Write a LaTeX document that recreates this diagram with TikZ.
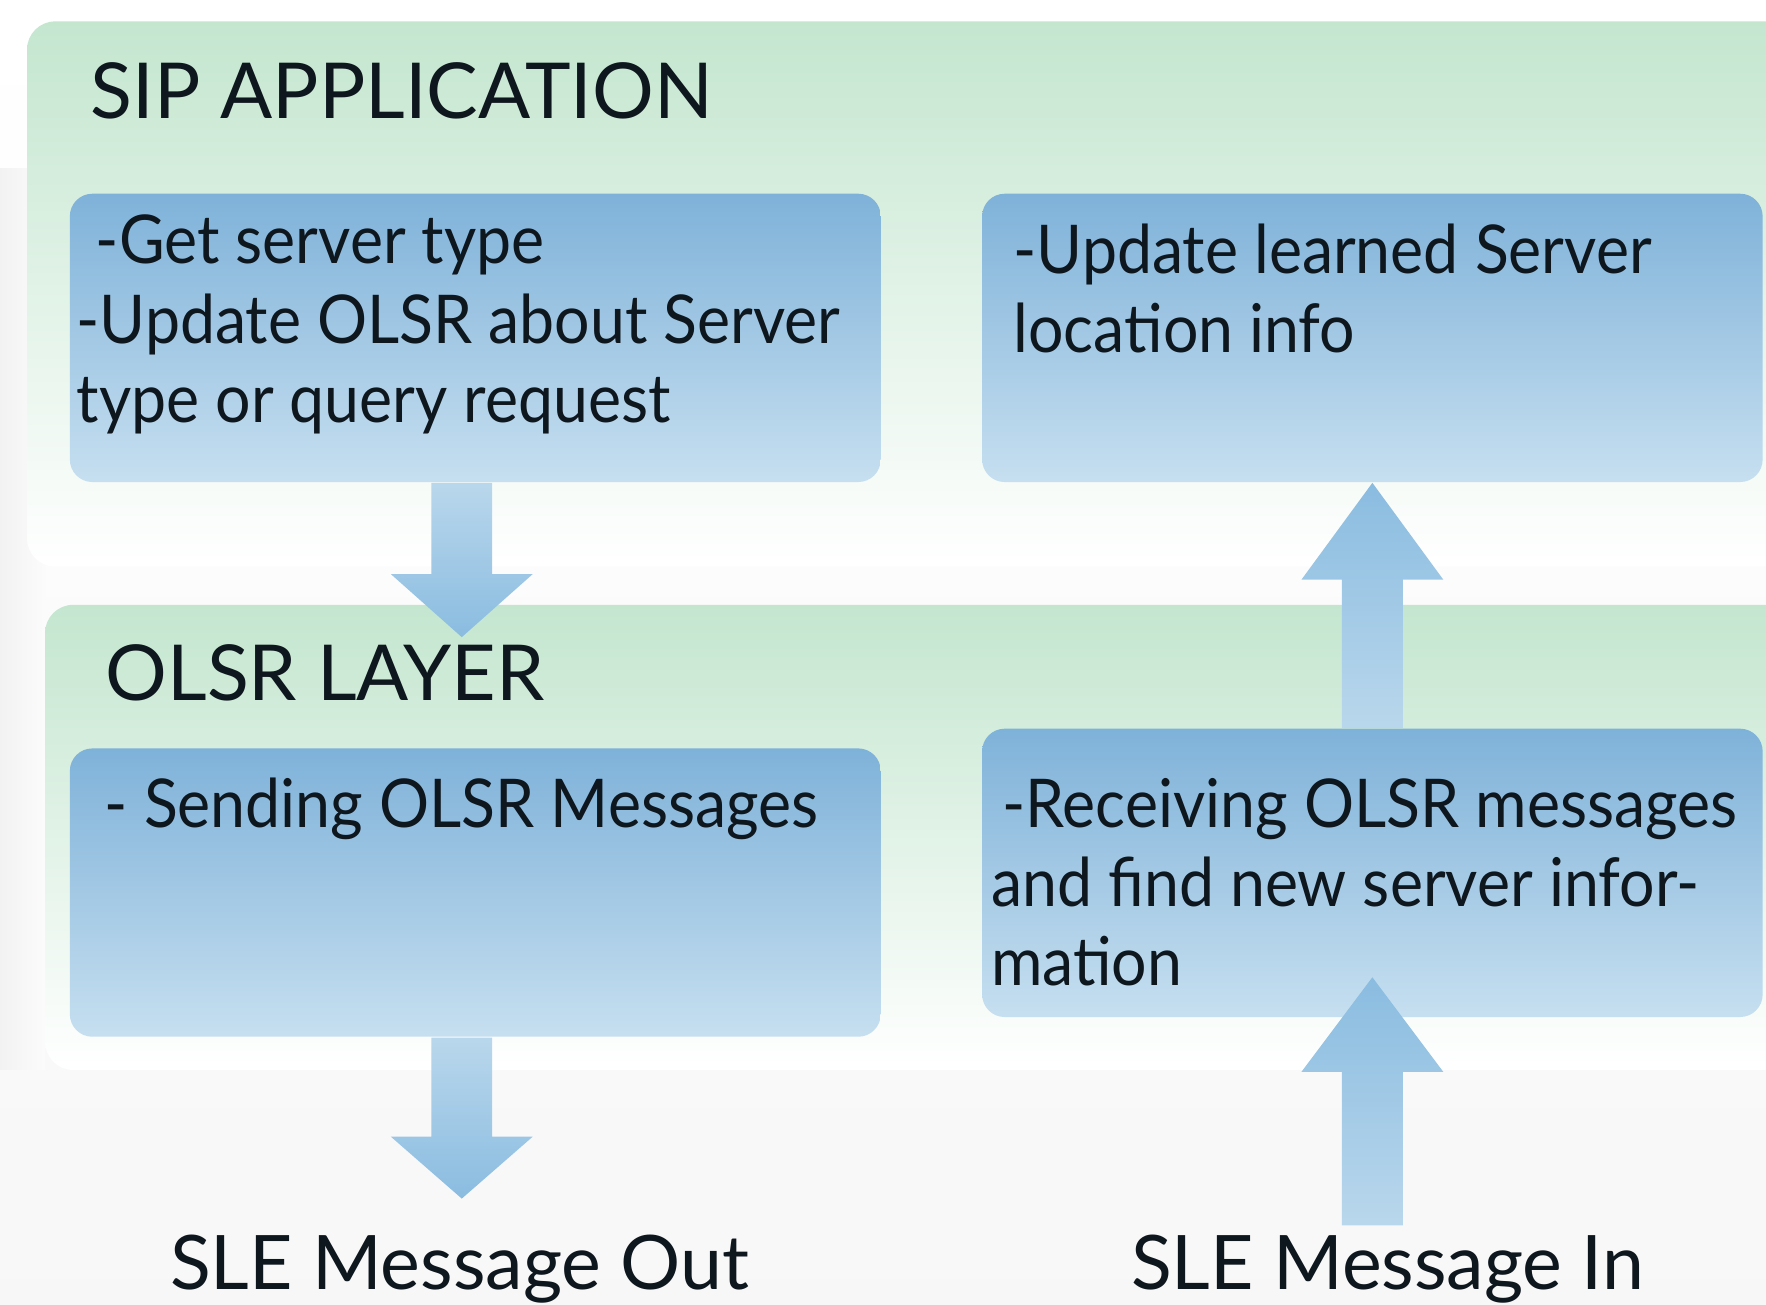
\documentclass[tikz,border=0pt]{standalone}
\usepackage{fontspec}
\setmainfont{Lato}
\newfontfamily\bodyfont[FakeStretch=0.93]{Lato}
\usetikzlibrary{calc}
\definecolor{layergreen}{RGB}{196,230,207}
\definecolor{boxtop}{RGB}{127,178,217}
\definecolor{boxbot}{RGB}{198,223,240}
\definecolor{arrowdark}{RGB}{138,188,224}
\definecolor{arrowlight}{RGB}{185,215,236}
\definecolor{inkc}{RGB}{14,22,30}
\begin{document}
\begin{tikzpicture}[line cap=round,line join=round,
  layer/.style={rounded corners=0.25cm, top color=layergreen, bottom color=white},
  title/.style={anchor=base west, inner sep=0pt, text=inkc,
    font=\fontsize{19.5}{22}\selectfont},
  stepbox/.style n args={3}{rounded corners=0.2cm, top color=boxtop,
    bottom color=boxbot, inner sep=0pt, text=inkc,
    font=\bodyfont\fontsize{17}{20}\selectfont,
    execute at begin node={\begin{minipage}[c][2.56cm][t]{#1}\vspace*{#2}%
      \leftskip=#3\rightskip=-1cm\relax},
    execute at end node={\end{minipage}}},
  downarrow/.style={top color=arrowlight, bottom color=arrowdark},
  uparrow/.style={top color=arrowdark, bottom color=arrowlight},
  msg/.style={anchor=base, inner sep=0pt, text=inkc,
    font=\fontsize{19}{22}\selectfont}]
  \useasboundingbox (0,0) rectangle (15.68,-11.58);
  \shade[top color=white, bottom color=gray!6] (0,0) rectangle (15.68,-11.58);
  \shade[left color=gray!10, right color=gray!3] (0,-1.5) rectangle (0.4,-9.5);

  % the two layers
  \shade[layer] (0.24,-0.19) rectangle (16.3,-5.03);
  \shade[layer] (0.40,-5.37) rectangle (16.3,-9.50);
  \node[title] (siptitle) at (0.80,-1.05) {SIP APPLICATION};
  \node[title] (olsrtitle) at (0.93,-6.22) {OLSR LAYER};

  % steps
  \node[stepbox={7.2cm}{0.19cm}{0.06cm}] (getinfo) at (4.22,-3.00)
    {\hspace*{0.17cm}-Get server type\\-Update OLSR about Server\\type or query request};
  \node[stepbox={6.93cm}{0.27cm}{0.28cm}] (learnloc) at (12.185,-3.00)
    {-Update learned Server\\location info};
  \node[stepbox={7.2cm}{0.26cm}{0.31cm}] (sendmsg) at (4.22,-7.925)
    {- Sending OLSR Messages};
  \node[stepbox={6.93cm}{0.44cm}{0.08cm}] (recvmsg) at (12.185,-7.75)
    {\hspace*{0.1cm}-Receiving OLSR messages\\and find new server infor-\\mation};

  \node[msg] (msgout) at (4.08,-11.45) {SLE Message Out};
  \node[msg] (msgin) at (12.32,-11.45) {SLE Message In};

  % block arrows
  \shade[downarrow] ($(getinfo.south)+(-0.39,0)$) -- ++(0,-0.81) -- ++(-0.36,0)
    -- ++(0.63,-0.56) -- ++(0.63,0.56) -- ++(-0.36,0) -- ++(0,0.81) -- cycle;
  \shade[downarrow] ($(sendmsg.south)+(-0.39,0)$) -- ++(0,-0.88) -- ++(-0.36,0)
    -- ++(0.63,-0.55) -- ++(0.63,0.55) -- ++(-0.36,0) -- ++(0,0.88) -- cycle;
  \shade[uparrow] ($(recvmsg.north)+(-0.27,0)$) -- ($(learnloc.south)+(-0.27,-0.86)$)
    -- ++(-0.36,0) -- (learnloc.south) -- ($(learnloc.south)+(0.63,-0.86)$)
    -- ++(-0.36,0) -- ($(recvmsg.north)+(0.27,0)$) -- cycle;
  \shade[uparrow] ($(recvmsg.south |- msgin.north)+(-0.27,0.08)$)
    -- ($(recvmsg.south)+(-0.27,-0.48)$) -- ++(-0.36,0) -- ($(recvmsg.south)+(0,0.36)$)
    -- ($(recvmsg.south)+(0.63,-0.48)$) -- ++(-0.36,0)
    -- ($(recvmsg.south |- msgin.north)+(0.27,0.08)$) -- cycle;
\end{tikzpicture}
\end{document}
